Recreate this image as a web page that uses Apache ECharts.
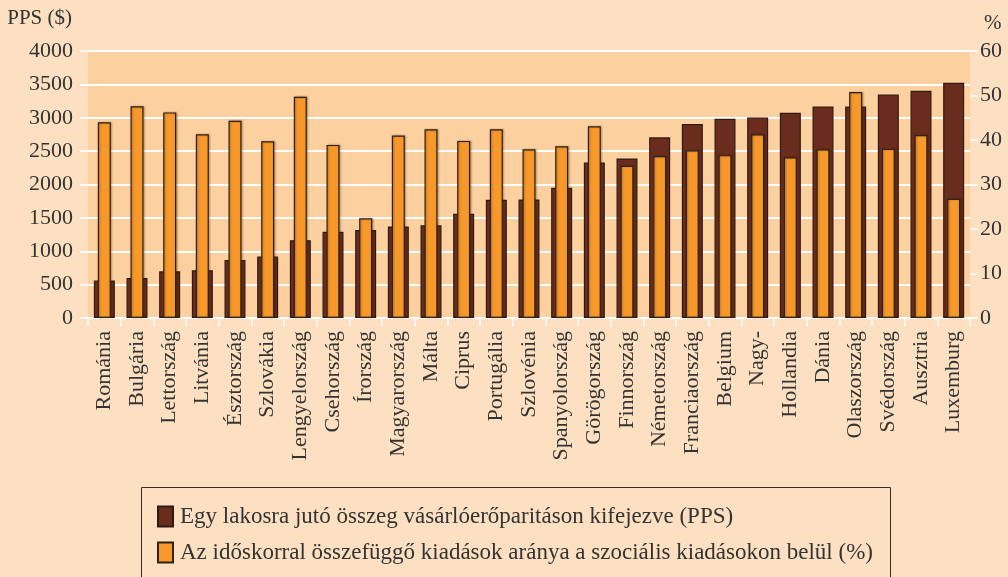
<!DOCTYPE html>
<html>
<head>
<meta charset="utf-8">
<style>
  html, body { margin: 0; padding: 0; background: #fde0c1; }
  #chart { width: 1008px; height: 577px; }
</style>
<script src="https://cdn.jsdelivr.net/npm/echarts@6/dist/echarts.min.js"></script>
</head>
<body>
<div id="chart"></div>
<script>
// országok
const categories = [
  'Románia', 'Bulgária', 'Lettország', 'Litvánia', 'Észtország', 'Szlovákia',
  'Lengyelország', 'Csehország', 'Írország', 'Magyarország', 'Málta', 'Ciprus',
  'Portugália', 'Szlovénia', 'Spanyolország', 'Görögország', 'Finnország',
  'Németország', 'Franciaország', 'Belgium', 'Nagy-', 'Hollandia', 'Dánia',
  'Olaszország', 'Svédország', 'Ausztria', 'Luxemburg'
]

// egy lakosra jutó összeg (PPS)
const ppsValues = [
  560, 600, 700, 715, 870, 920, 1165, 1292, 1318, 1371, 1388, 1562,
  1770, 1775, 1950, 2330, 2390, 2706, 2905, 2985, 3005, 3075, 3170,
  3170, 3350, 3405, 3525
]

// időskorral összefüggő kiadások aránya (%)
const shareValues = [
  44.0, 47.6, 46.2, 41.3, 44.3, 39.7, 49.7, 38.9, 22.4, 41.0, 42.4, 39.8,
  42.4, 37.9, 38.6, 43.1, 34.2, 36.4, 37.7, 36.6, 41.3, 36.1, 37.9,
  50.8, 38.0, 41.1, 26.8
]

const seriesNames = [
  'Egy lakosra jutó összeg vásárlóerőparitáson kifejezve (PPS)',
  'Az időskorral összefüggő kiadások aránya a szociális kiadásokon belül (%)'
]

const font = '"Liberation Serif", "DejaVu Serif", serif'
const textColor = '#333'

const chart = echarts.init(document.getElementById('chart'))

chart.setOption({
  backgroundColor: '#fde0c1',
  animation: false,
  textStyle: { fontFamily: font },
  grid: {
    left: 88,
    right: 38,
    top: 51,
    bottom: 259,
    show: true,
    backgroundColor: '#fdd0a0',
    borderWidth: 0
  },
  legend: {
    orient: 'vertical',
    left: 157,
    top: 505,
    padding: 0,
    icon: 'rect',
    itemWidth: 15,
    itemHeight: 20,
    itemGap: 13,
    data: seriesNames,
    textStyle: { fontFamily: font, fontSize: 23, color: textColor, padding: [0, 0, 0, 2] }
  },
  graphic: [{
    type: 'rect',
    shape: { x: 141.5, y: 487.5, width: 749, height: 120 },
    style: { fill: 'none', stroke: '#3b2a20', lineWidth: 1 }
  }],
  xAxis: [{
    type: 'category',
    data: categories,
    axisLine: { show: false },
    axisTick: { show: true, length: 8, lineStyle: { color: '#fff', width: 1.5 } },
    axisLabel: {
      rotate: 90,
      margin: 13,
      interval: 0,
      fontFamily: font,
      fontSize: 22,
      color: textColor
    }
  }, {
    type: 'category',
    data: categories,
    show: false
  }],
  yAxis: [{
    type: 'value',
    min: 0,
    max: 4000,
    interval: 500,
    name: 'PPS ($)',
    nameLocation: 'end',
    nameGap: 22,
    nameTextStyle: { fontFamily: font, fontSize: 21, color: textColor, align: 'right', padding: [0, 16, 0, 0] },
    axisLine: { show: false },
    axisTick: { show: true, length: 8, lineStyle: { color: '#fff', width: 1.5 } },
    axisLabel: { margin: 15, fontFamily: font, fontSize: 22, color: textColor, formatter: v => String(v) },
    splitLine: { lineStyle: { color: '#fff', width: 2 } }
  }, {
    type: 'value',
    min: 0,
    max: 60,
    interval: 10,
    position: 'right',
    name: '%',
    nameLocation: 'end',
    nameGap: 17,
    nameTextStyle: { fontFamily: font, fontSize: 21, color: textColor, align: 'left', padding: [0, 0, 0, 14] },
    axisLine: { show: false },
    axisTick: { show: true, length: 8, lineStyle: { color: '#fff', width: 1.5 } },
    axisLabel: { margin: 10, fontFamily: font, fontSize: 22, color: textColor, formatter: v => String(v) },
    splitLine: { show: false }
  }],
  series: [{
    name: seriesNames[0],
    type: 'bar',
    xAxisIndex: 0,
    yAxisIndex: 0,
    data: ppsValues,
    barWidth: 21,
    itemStyle: {
      color: '#6a2d1d',
      borderColor: '#2e1c14',
      borderWidth: 1.2
    }
  }, {
    name: seriesNames[1],
    type: 'bar',
    xAxisIndex: 1,
    yAxisIndex: 1,
    data: shareValues,
    barWidth: 13,
    itemStyle: {
      color: '#f7992a',
      borderColor: '#2e2216',
      borderWidth: 1.2,
      shadowColor: 'rgba(60,30,10,0.35)',
      shadowBlur: 2,
      shadowOffsetX: 1
    }
  }]
})
</script>
</body>
</html>
